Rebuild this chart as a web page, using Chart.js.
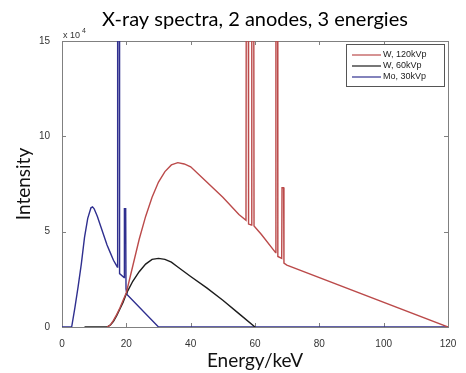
<!DOCTYPE html>
<html>
<head>
<meta charset="utf-8">
<script src="https://cdn.jsdelivr.net/npm/chart.js@4"></script>
<style>
  body { margin: 0; background: #fff; }
  canvas { display: block; }
</style>
</head>
<body>
<canvas id="spectra" width="466" height="373"></canvas>
<script>
// series labels (legend)
const seriesNames = ["W, 120kVp", "W, 60kVp", "Mo, 30kVp"];

// W anode, 120 kVp  (energy keV / intensity x10^4)
const w120Energy = [14, 15, 16, 17, 18, 19, 20, 22, 24, 26, 28, 30, 32, 34, 36, 38, 40, 45, 50, 55, 57.2,
  57.3, 57.9, 58.0, 58.9, 59.0, 59.6, 59.7, 62, 66.4, 66.5, 67.0, 67.1, 68.3, 68.4, 68.9, 69.0, 69.9, 120];
const w120Intensity = [0, 0.1, 0.35, 0.65, 1.0, 1.4, 1.8, 3.2, 4.6, 5.8, 6.8, 7.6, 8.15, 8.5, 8.62, 8.55, 8.4, 7.6, 6.8, 5.9, 5.6,
  20, 20, 5.4, 5.35, 20, 20, 5.3, 4.85, 3.9, 20, 20, 3.7, 3.6, 7.3, 7.3, 3.35, 3.25, 0];

// W anode, 60 kVp
const w60Energy = [7, 14, 15, 16, 17, 18, 19, 20, 22, 24, 26, 28, 30, 32, 34, 36, 40, 45, 50, 55, 60];
const w60Intensity = [0, 0, 0.1, 0.3, 0.6, 0.95, 1.3, 1.75, 2.4, 2.9, 3.3, 3.55, 3.6, 3.55, 3.4, 3.15, 2.65, 2.05, 1.4, 0.7, 0];

// Mo anode, 30 kVp
const mo30Energy = [0, 3, 4, 5, 6, 7, 8, 9, 9.5, 10, 11, 12, 13, 14, 15, 16, 17.2,
  17.3, 17.8, 17.9, 19.3, 19.4, 19.8, 19.9, 20.2, 30, 120];
const mo30Intensity = [0, 0, 1.0, 2.1, 3.3, 4.7, 5.7, 6.25, 6.3, 6.2, 5.8, 5.3, 4.8, 4.3, 3.9, 3.5, 3.15,
  20, 20, 2.8, 2.6, 6.2, 6.2, 2.0, 1.7, 0, 0];

// axis ticks
const xTicks = [0, 20, 40, 60, 80, 100, 120];
const yTicks = [0, 5, 10, 15];

const colors = ["#bb4a4a", "#1c1c1c", "#2f2f8f"];

function pairs(xs, ys) {
  return xs.map((e, i) => ({ x: e, y: ys[i] }));
}

// matlab-like frame with inward ticks, exponent and boxed legend
const matlabFrame = {
  id: "matlabFrame",
  beforeDatasetsDraw(chart) {
    const ctx = chart.ctx;
    const a = chart.chartArea;
    const xs = chart.scales.x, ys = chart.scales.y;
    ctx.save();
    ctx.strokeStyle = "#808080";
    ctx.lineWidth = 1;
    ctx.strokeRect(a.left + 0.5, a.top + 0.5, a.right - a.left, a.bottom - a.top);
    ctx.beginPath();
    xTicks.forEach(v => {
      const p = Math.round(xs.getPixelForValue(v)) + 0.5;
      ctx.moveTo(p, a.bottom); ctx.lineTo(p, a.bottom - 4);
      ctx.moveTo(p, a.top); ctx.lineTo(p, a.top + 4);
    });
    yTicks.forEach(v => {
      const p = Math.round(ys.getPixelForValue(v)) + 0.5;
      ctx.moveTo(a.left, p); ctx.lineTo(a.left + 4, p);
      ctx.moveTo(a.right, p); ctx.lineTo(a.right - 4, p);
    });
    ctx.stroke();
    // x 10^4
    ctx.fillStyle = "#333";
    ctx.font = "9px 'Liberation Sans'";
    ctx.textBaseline = "alphabetic";
    ctx.fillText("x 10", a.left + 1, a.top - 3);
    ctx.font = "7px 'Liberation Sans'";
    ctx.fillText("4", a.left + 20, a.top - 8);
    ctx.restore();
  },
  afterDraw(chart) {
    const ctx = chart.ctx;
    const bx = 346, by = 44, bw = 98, bh = 42;
    ctx.save();
    ctx.fillStyle = "#fff";
    ctx.fillRect(bx, by, bw, bh);
    ctx.strokeStyle = "#555";
    ctx.lineWidth = 1;
    ctx.strokeRect(bx + 0.5, by + 0.5, bw, bh);
    ctx.font = "9px 'Liberation Sans'";
    ctx.textBaseline = "middle";
    chart.data.datasets.forEach((ds, i) => {
      const yy = by + 11 + i * 11;
      ctx.strokeStyle = ds.borderColor;
      ctx.lineWidth = 1.2;
      ctx.beginPath();
      ctx.moveTo(bx + 6, yy); ctx.lineTo(bx + 35, yy);
      ctx.stroke();
      ctx.fillStyle = "#222";
      ctx.fillText(ds.label, bx + 37, yy);
    });
    ctx.restore();
  }
};

const datasets = [
  pairs(w120Energy, w120Intensity),
  pairs(w60Energy, w60Intensity),
  pairs(mo30Energy, mo30Intensity)
].map((d, i) => ({
  label: seriesNames[i],
  data: d,
  showLine: true,
  borderColor: colors[i],
  borderWidth: 1.4,
  pointRadius: 0,
  tension: 0
}));

new Chart(document.getElementById("spectra"), {
  type: "scatter",
  data: { datasets: datasets },
  options: {
    responsive: false,
    animation: false,
    events: [],
    layout: { padding: { left: 0, right: 18, top: 0, bottom: 0 } },
    plugins: {
      legend: { display: false },
      tooltip: { enabled: false },
      title: {
        display: true,
        fullSize: false,
        text: "X-ray spectra, 2 anodes, 3 energies",
        color: "#000",
        font: { family: "Lato", size: 20, weight: "normal" },
        padding: { top: 8, bottom: 9 }
      }
    },
    scales: {
      x: {
        type: "linear",
        min: 0, max: 120,
        afterFit(s) { s.height = 46; },
        afterBuildTicks(s) { s.ticks = xTicks.map(v => ({ value: v })); },
        grid: { display: false },
        border: { display: false },
        ticks: { color: "#333", font: { family: "Liberation Sans", size: 10 }, padding: 3, maxRotation: 0 },
        title: {
          display: true,
          text: "Energy/keV",
          color: "#111",
          font: { family: "Lato", size: 19 },
          padding: { top: 0, bottom: 1 }
        }
      },
      y: {
        type: "linear",
        min: 0, max: 15,
        afterFit(s) { s.width = 62; },
        afterBuildTicks(s) { s.ticks = yTicks.map(v => ({ value: v })); },
        grid: { display: false },
        border: { display: false },
        ticks: { color: "#333", font: { family: "Liberation Sans", size: 10 }, padding: 4 },
        title: {
          display: true,
          text: "Intensity",
          color: "#111",
          font: { family: "Lato", size: 19 },
          padding: { top: 12, bottom: 0 }
        }
      }
    }
  },
  plugins: [matlabFrame]
});
</script>
</body>
</html>
